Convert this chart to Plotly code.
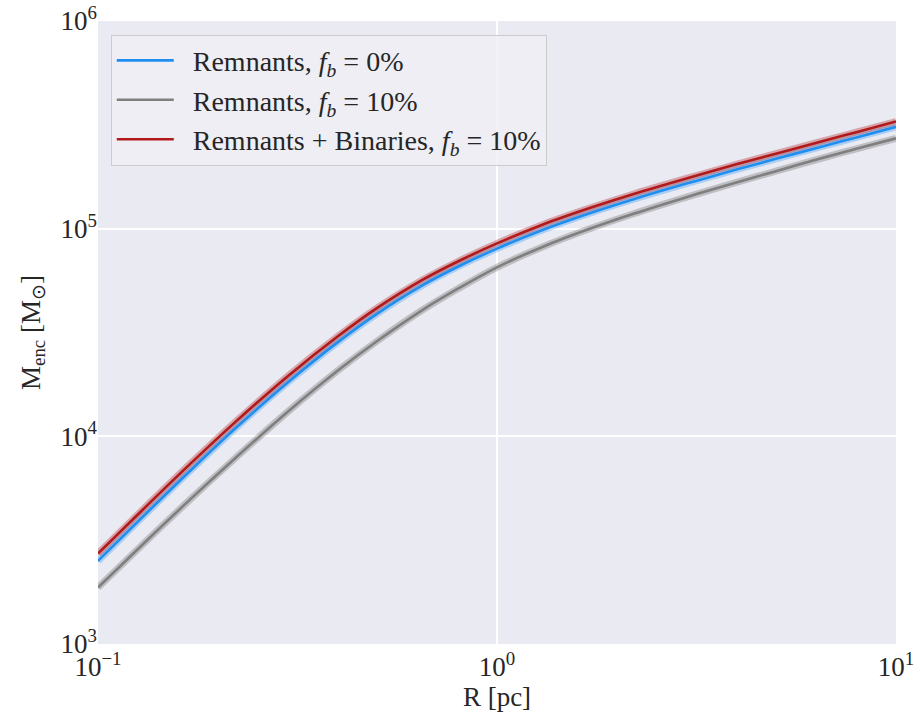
import plotly.graph_objects as go

# Projected radius [pc]
radius_pc = [0.1, 0.13, 0.17, 0.22, 0.3, 0.4, 0.5, 0.65, 0.8, 1.0,
             1.3, 1.7, 2.2, 3.0, 4.0, 5.0, 6.5, 8.0, 10.0]

# Enclosed mass [Msun]
m_remnants_fb0 = [2512, 4130, 6808, 10840, 18280, 28510, 38900, 53330, 65770, 80170,
                  98600, 118400, 138700, 165300, 193000, 216900, 248100, 275800, 309400]
m_remnants_fb10 = [1871, 3041, 4955, 7798, 13210, 20800, 28710, 40550, 51520, 65160,
                   81660, 99540, 118000, 142200, 167500, 189200, 218300, 243200, 272300]
m_remn_binaries_fb10 = [2723, 4467, 7345, 11640, 19590, 30410, 41400, 56620, 69660, 84920,
                        104500, 125300, 146900, 175000, 204600, 229600, 263000, 292400, 328100]

PAD = "\u00a0\u00a0"
series = [
    (PAD + "Remnants, <i>f<sub>b</sub></i> = 0%", m_remnants_fb0, "#1f8ef1", "rgba(31,142,241,0.30)"),
    (PAD + "Remnants, <i>f<sub>b</sub></i> = 10%", m_remnants_fb10, "#7f7f7f", "rgba(110,110,110,0.35)"),
    (PAD + "Remnants + Binaries, <i>f<sub>b</sub></i> = 10%", m_remn_binaries_fb10, "#b2191b", "rgba(178,34,34,0.35)"),
]

FONT = "Liberation Serif"
FS = 27

fig = go.Figure()

# translucent spread bands underneath the median curves
for name, mass, col, band in series:
    fig.add_trace(go.Scatter(x=radius_pc, y=mass, mode="lines", line=dict(color=band, width=7, shape="spline"),
                             showlegend=False, hoverinfo="skip"))
for name, mass, col, band in series:
    fig.add_trace(go.Scatter(x=radius_pc, y=mass, mode="lines", name=name,
                             line=dict(color=col, width=2.6, shape="spline")))

fig.update_layout(
    width=915, height=721,
    margin=dict(l=98, r=19, t=21, b=77),
    paper_bgcolor="white",
    plot_bgcolor="#EAEAF2",
    font=dict(family=FONT, size=FS, color="#262626"),
    legend=dict(x=0.016, y=0.978, xanchor="left", yanchor="top",
                bgcolor="rgba(238,238,245,0.85)", bordercolor="#cccccc", borderwidth=1,
                font=dict(family=FONT, size=28, color="#262626"), tracegroupgap=0,
                itemwidth=57),
    xaxis=dict(type="log", range=[-1, 1], automargin=False,
               tickvals=[0.1, 1, 10], ticktext=["10<sup>−1</sup>", "10<sup>0</sup>", "10<sup>1</sup>"],
               showgrid=True, gridcolor="white", gridwidth=1.5, zeroline=False, showline=False,
               ticks="", tickfont=dict(size=FS), ticklabelstandoff=4,
               title=dict(text="R [pc]", font=dict(size=FS), standoff=4)),
    yaxis=dict(type="log", range=[3, 6], automargin=False,
               tickvals=[1e3, 1e4, 1e5, 1e6],
               ticktext=["10<sup>3</sup>", "10<sup>4</sup>", "10<sup>5</sup>", "10<sup>6</sup>"],
               showgrid=True, gridcolor="white", gridwidth=1.5, zeroline=False, showline=False,
               ticks="", tickfont=dict(size=FS),
               title=dict(text="M<sub>enc</sub> [M<sub>⊙</sub>]", font=dict(size=FS), standoff=12)),
)

fig.write_html("out.html")
